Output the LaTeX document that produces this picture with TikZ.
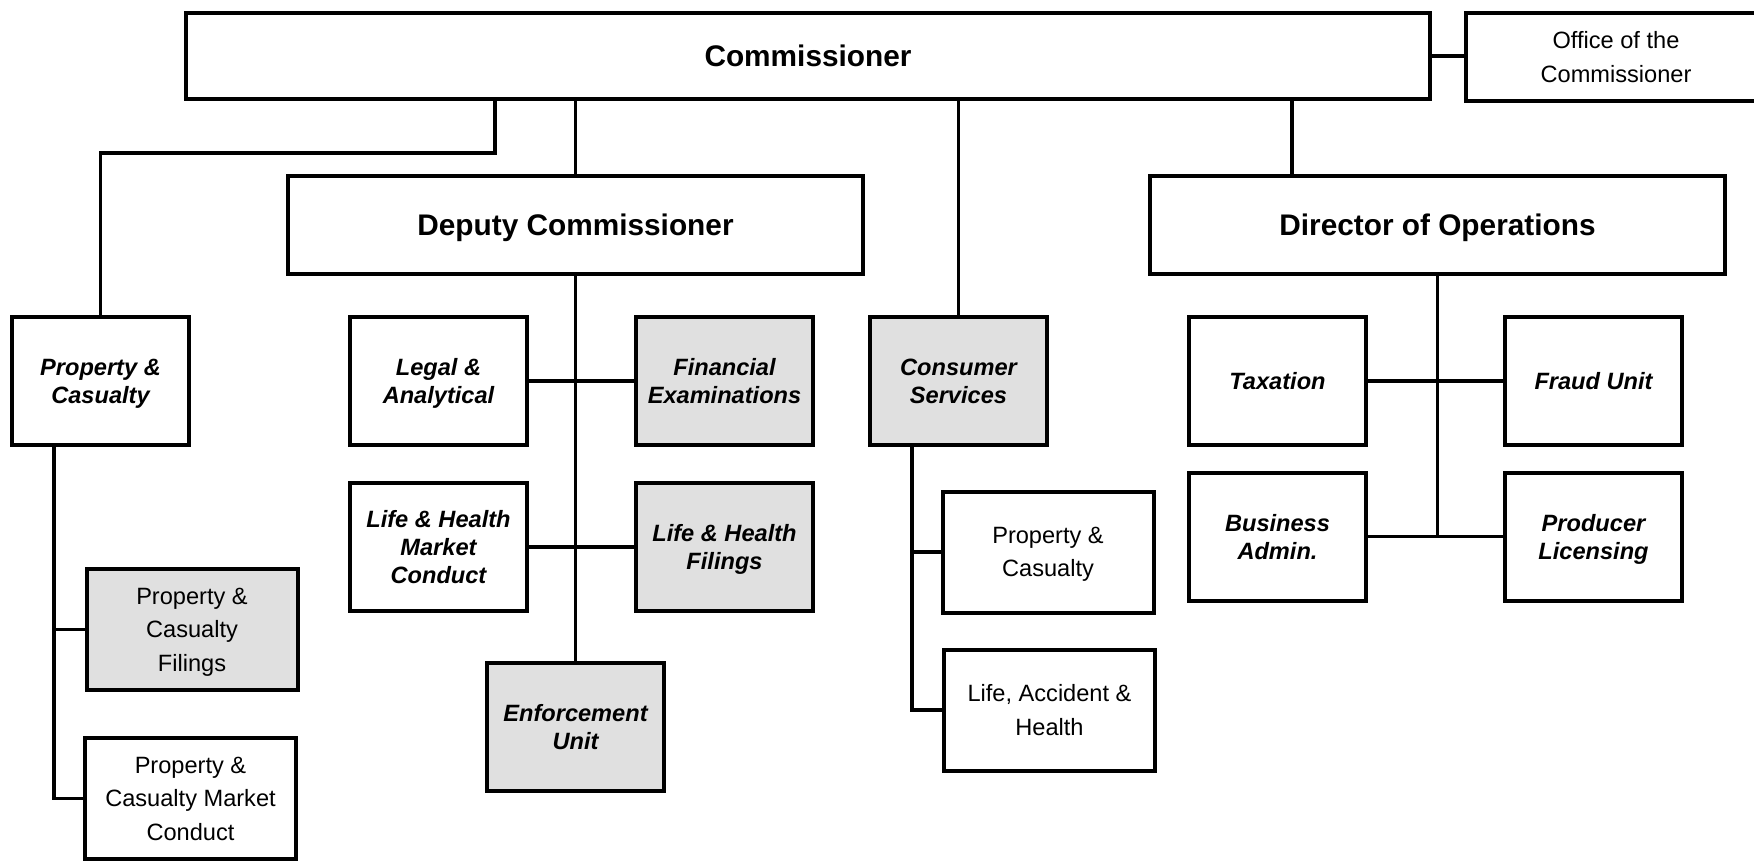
\documentclass[tikz,border=0pt]{standalone}
\usepackage{fontspec}
\setmainfont{Liberation Sans}
\usetikzlibrary{calc}

\definecolor{unitgray}{RGB}{224,224,224}

\tikzset{
  orgbox/.style={draw=black,line width=4pt,rectangle,align=center,inner sep=0pt,fill=white,text depth=-3.5pt},
  headbox/.style={orgbox,minimum width=575pt,minimum height=98pt,font=\fontsize{29.8}{34}\selectfont\bfseries},
  unitbox/.style={orgbox,minimum width=177pt,minimum height=128pt,font=\fontsize{23.6}{28}\selectfont\bfseries\itshape},
  secbox/.style={orgbox,minimum width=211pt,minimum height=121pt,font=\fontsize{23.6}{33.6}\selectfont},
  orgline/.style={line width=3.6pt,black}
}

\begin{document}
\begin{tikzpicture}[x=1pt,y=-1pt]
            \useasboundingbox (0,0) rectangle (1754,861);

            \node[headbox,minimum width=1244pt,minimum height=86pt] (comm) at (808,56) {Commissioner};
            \node[secbox,minimum width=300pt,minimum height=88pt] (office) at (1616,57) {Office of the\\Commissioner};
            \node[headbox] (dep) at (575.5,225) {Deputy Commissioner};
            \node[headbox] (dir) at (1437.5,225) {Director of Operations};

            \foreach \n/\x/\y/\f/\t in {pc/100.5/381/white/{Property \&\\Casualty},
                legal/438.5/381/white/{Legal \&\\Analytical},
                finexam/724.5/381/unitgray/{Financial\\Examinations},
                cs/958.5/381/unitgray/{Consumer\\Services},
                tax/1277.5/381/white/{Taxation},
                fraud/1593.5/381/white/{Fraud Unit},
                lhmc/438.5/547/white/{Life \& Health\\Market\\Conduct},
                lhf/724.5/547/unitgray/{Life \& Health\\Filings},
                enf/575.5/727/unitgray/{Enforcement\\Unit},
                busadm/1277.5/536.5/white/{Business\\Admin.},
                prodlic/1593.5/536.5/white/{Producer\\Licensing}} {
            \node[unitbox,fill=\f] (\n) at (\x,\y) {\t};}

            \node[secbox,fill=unitgray] (pcf) at (192,629.5) {Property \&\\Casualty\\Filings};
            \node[secbox] (pcmc) at (190.5,798.5) {Property \&\\Casualty Market\\Conduct};
            \node[secbox] (cspc) at (1048,552) {Property \&\\Casualty};
            \node[secbox] (lah) at (1049.5,710) {Life, Accident \&\\Health};

            \coordinate (pcbend) at (495,153);
            \coordinate (dirtap) at (1292,0);
            \coordinate (pctrunk) at (54,0);
            \coordinate (cstrunk) at (912,0);

            \draw[orgline] (comm.east) -- (comm.east -| office.west);
            \draw[orgline] (pcbend |- comm.south) -- (pcbend) -| (pc.north);
            \draw[orgline] (dep.north |- comm.south) -- (dep.north);
            \draw[orgline] (cs.north |- comm.south) -- (cs.north);
            \draw[orgline] (dirtap |- comm.south) -- (dirtap |- dir.north);

            \draw[orgline] (dep.south) -- (dep.south |- enf.north);
            \draw[orgline] (legal.east) -- (finexam.west);
            \draw[orgline] (lhmc.east) -- (lhf.west);

            \draw[orgline] (dir.south) -- (dir.south |- busadm.east);
            \draw[orgline] (tax.east) -- (fraud.west);
            \draw[orgline] (busadm.east) -- (prodlic.west);

            \draw[orgline] (pctrunk |- pc.south) |- (pcmc.west);
            \draw[orgline] (pctrunk |- pcf.west) -- (pcf.west);
            \draw[orgline] (cstrunk |- cs.south) |- (lah.west);
            \draw[orgline] (cstrunk |- cspc.west) -- (cspc.west);

        \end{tikzpicture}
\end{document}
